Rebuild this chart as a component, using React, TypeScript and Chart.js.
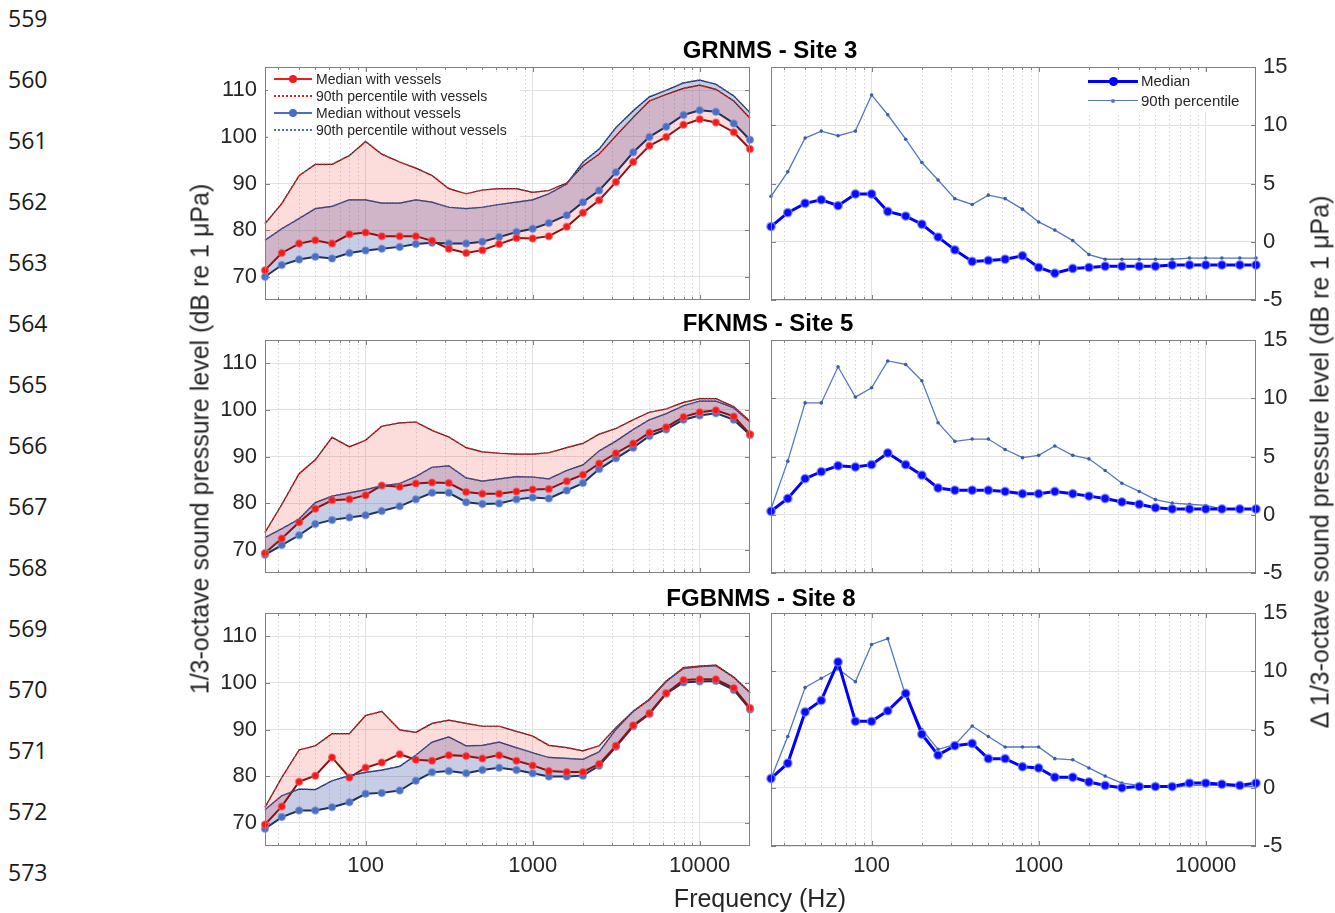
import React, { useEffect, useRef } from "react";
import { Chart, registerables } from "chart.js";

Chart.register(...registerables);

const FONT = "'Liberation Sans', Arial, Helvetica, sans-serif";
const TEXT = "#262626";

// 1/3-octave band centre frequencies (Hz)
const freqHz = [25, 31.5, 40, 50, 63, 80, 100, 125, 160, 200, 250, 315, 400, 500, 630, 800, 1000, 1250, 1600, 2000, 2500, 3150, 4000, 5000, 6300, 8000, 10000, 12500, 16000, 20000];
const freqTicks = [100, 1000, 10000];
const minorFreqs = [30, 40, 50, 60, 70, 80, 90, 200, 300, 400, 500, 600, 700, 800, 900, 2000, 3000, 4000, 5000, 6000, 7000, 8000, 9000];
const levelTicks = [70, 80, 90, 100, 110];
const deltaTicks = [-5, 0, 5, 10, 15];

const siteTitles = ["GRNMS - Site 3", "FKNMS - Site 5", "FGBNMS - Site 8"];
const levelLegend = ["Median with vessels", "90th percentile with vessels", "Median without vessels", "90th percentile without vessels"];
const deltaLegend = ["Median", "90th percentile"];
const lineNumbers = [559, 560, 561, 562, 563, 564, 565, 566, 567, 568, 569, 570, 571, 572, 573];

// GRNMS - Site 3
const grnmsMedianWith = [71.4, 75.1, 77.1, 77.8, 77.1, 79.1, 79.5, 78.7, 78.7, 78.7, 77.7, 76.0, 75.1, 75.7, 77.0, 78.3, 78.2, 78.7, 80.7, 83.7, 86.4, 90.3, 94.6, 98.1, 100.0, 102.6, 103.8, 103.1, 101.0, 97.4];
const grnmsP90With = [81.4, 85.7, 91.7, 94.1, 94.1, 96.0, 99.0, 96.3, 94.6, 93.3, 91.7, 88.9, 87.8, 88.6, 88.9, 88.9, 88.1, 88.5, 90.1, 93.8, 96.3, 100.2, 104.2, 107.7, 109.1, 110.4, 111.1, 110.2, 107.7, 104.0];
const grnmsMedianWithout = [70.0, 72.5, 73.7, 74.3, 73.9, 75.1, 75.6, 76.0, 76.4, 77.0, 77.3, 77.1, 77.1, 77.5, 78.5, 79.6, 80.3, 81.5, 83.2, 86.0, 88.5, 92.4, 96.7, 100.0, 102.2, 104.7, 105.7, 105.4, 102.9, 99.4];
const grnmsP90Without = [77.8, 80.3, 82.5, 84.6, 85.1, 86.5, 86.5, 85.8, 85.8, 86.5, 86.0, 84.9, 84.6, 84.9, 85.5, 86.0, 86.5, 87.8, 89.9, 94.6, 97.4, 102.0, 105.6, 108.6, 110.0, 111.6, 112.2, 111.3, 108.8, 105.2];
const grnmsDeltaMedian = [1.3, 2.5, 3.3, 3.6, 3.1, 4.1, 4.1, 2.6, 2.2, 1.5, 0.4, -0.7, -1.7, -1.6, -1.5, -1.2, -2.2, -2.7, -2.3, -2.2, -2.1, -2.1, -2.1, -2.1, -2.0, -2.0, -2.0, -2.0, -2.0, -2.0];
const grnmsDeltaP90 = [3.9, 6.0, 8.9, 9.5, 9.1, 9.5, 12.6, 10.9, 8.8, 6.8, 5.3, 3.7, 3.2, 4.0, 3.7, 2.8, 1.7, 1.0, 0.1, -1.1, -1.5, -1.5, -1.5, -1.5, -1.5, -1.4, -1.4, -1.4, -1.4, -1.4];

// FKNMS - Site 5
const fknmsMedianWith = [69.3, 72.4, 75.9, 78.8, 80.6, 80.8, 81.7, 83.8, 83.5, 84.2, 84.4, 84.3, 82.4, 82.0, 82.0, 82.5, 82.9, 83.0, 84.7, 86.1, 88.5, 90.7, 92.8, 95.1, 96.3, 98.5, 99.5, 99.9, 98.6, 94.8];
const fknmsP90With = [73.7, 79.7, 86.3, 89.3, 94.1, 92.1, 93.5, 96.5, 97.2, 97.4, 95.6, 94.2, 91.9, 91.0, 90.7, 90.5, 90.5, 90.8, 91.9, 92.8, 94.8, 96.0, 97.9, 99.5, 100.2, 101.6, 102.4, 102.4, 100.7, 97.6];
const fknmsMedianWithout = [68.9, 71.0, 73.1, 75.5, 76.4, 76.9, 77.4, 78.3, 79.3, 80.8, 82.2, 82.2, 80.2, 79.8, 79.9, 80.8, 81.2, 81.0, 82.7, 84.3, 87.3, 89.6, 91.9, 94.4, 95.8, 97.9, 98.8, 99.3, 97.9, 94.6];
const fknmsP90Without = [72.6, 74.5, 76.6, 80.1, 81.5, 82.2, 82.9, 83.7, 84.2, 85.7, 87.7, 88.0, 85.4, 84.7, 85.2, 85.7, 85.6, 85.2, 87.0, 88.2, 91.2, 93.3, 95.8, 97.9, 99.2, 100.9, 101.9, 101.9, 100.4, 97.4];
const fknmsDeltaMedian = [0.3, 1.4, 3.1, 3.7, 4.2, 4.1, 4.3, 5.3, 4.3, 3.4, 2.3, 2.1, 2.1, 2.1, 2.0, 1.8, 1.8, 2.0, 1.8, 1.6, 1.4, 1.1, 0.9, 0.6, 0.5, 0.5, 0.5, 0.5, 0.5, 0.5];
const fknmsDeltaP90 = [0.5, 4.6, 9.6, 9.6, 12.7, 10.1, 10.9, 13.2, 12.9, 11.5, 7.9, 6.3, 6.5, 6.5, 5.6, 4.9, 5.1, 5.9, 5.1, 4.8, 3.8, 2.7, 2.0, 1.3, 1.0, 0.9, 0.8, 0.5, 0.5, 0.5];

// FGBNMS - Site 8
const fgbnmsMedianWith = [69.6, 73.5, 78.8, 80.1, 84.0, 79.7, 81.8, 82.9, 84.7, 83.5, 83.3, 84.5, 84.3, 83.8, 84.5, 83.3, 82.3, 81.1, 80.9, 80.9, 82.6, 86.5, 90.9, 93.5, 97.8, 100.6, 100.8, 100.8, 98.9, 94.6];
const fgbnmsP90With = [73.3, 79.7, 85.6, 86.5, 89.1, 89.1, 93.0, 93.9, 89.9, 89.4, 91.3, 92.0, 91.3, 90.7, 90.7, 89.6, 88.6, 86.6, 86.1, 85.4, 86.5, 90.4, 93.9, 96.4, 100.3, 103.3, 103.6, 103.8, 101.2, 97.9];
const fgbnmsMedianWithout = [68.7, 71.2, 72.6, 72.6, 73.3, 74.4, 76.2, 76.4, 76.9, 79.0, 80.8, 81.1, 80.6, 81.3, 81.8, 81.3, 80.6, 79.9, 79.9, 80.1, 82.2, 86.3, 90.7, 93.3, 97.7, 100.1, 100.3, 100.4, 98.5, 94.3];
const fgbnmsP90Without = [72.8, 75.8, 77.2, 77.1, 79.0, 80.1, 80.8, 81.3, 82.1, 84.5, 87.3, 88.4, 86.5, 86.6, 87.3, 86.1, 85.0, 84.0, 83.8, 83.6, 85.2, 90.0, 93.9, 96.5, 100.4, 103.1, 103.5, 103.7, 101.2, 97.9];
const fgbnmsDeltaMedian = [0.8, 2.1, 6.5, 7.5, 10.8, 5.7, 5.7, 6.6, 8.1, 4.6, 2.8, 3.6, 3.8, 2.5, 2.5, 1.8, 1.7, 0.9, 0.9, 0.5, 0.2, 0.0, 0.1, 0.1, 0.1, 0.4, 0.4, 0.3, 0.2, 0.4];
const fgbnmsDeltaP90 = [0.8, 4.4, 8.6, 9.4, 10.2, 9.1, 12.3, 12.8, 7.9, 5.0, 3.3, 3.7, 5.3, 4.4, 3.5, 3.5, 3.5, 2.5, 2.4, 1.7, 1.0, 0.4, 0.2, 0.1, 0.0, 0.2, 0.2, 0.2, 0.1, 0.1];

const levelSeries = [
  [grnmsMedianWith, grnmsP90With, grnmsMedianWithout, grnmsP90Without],
  [fknmsMedianWith, fknmsP90With, fknmsMedianWithout, fknmsP90Without],
  [fgbnmsMedianWith, fgbnmsP90With, fgbnmsMedianWithout, fgbnmsP90Without],
];
const deltaSeries = [
  [grnmsDeltaMedian, grnmsDeltaP90],
  [fknmsDeltaMedian, fknmsDeltaP90],
  [fgbnmsDeltaMedian, fgbnmsDeltaP90],
];

// layout
const ROW_TOP = [67, 340, 613];
const PLOT_H = 233;
const LEFT_X = 265;
const RIGHT_X = 771;
const PLOT_W = 485;
const PAD_TOP = 24;
const AXIS_W = 60;
const X_AXIS_H = 45;

const RED_FILL = "rgba(245, 80, 80, 0.2)";
const BLUE_FILL = "rgba(50, 75, 160, 0.28)";

const pts = (arr: number[]) => freqHz.map((f, i) => ({ x: f, y: arr[i] }));

const gridPlugin = {
  id: "matlabGrid",
  beforeDatasetsDraw(chart: any) {
    const { ctx, chartArea: a, scales } = chart;
    const xs = scales.x;
    ctx.save();
    ctx.strokeStyle = "#d4d4d4";
    ctx.lineWidth = 1;
    ctx.setLineDash([1.5, 2.5]);
    minorFreqs.forEach((f) => {
      const px = Math.round(xs.getPixelForValue(f)) + 0.5;
      ctx.beginPath();
      ctx.moveTo(px, a.top);
      ctx.lineTo(px, a.bottom);
      ctx.stroke();
    });
    ctx.restore();
  },
  afterDraw(chart: any) {
    const { ctx, chartArea: a, scales } = chart;
    const xs = scales.x;
    const ys = scales.y;
    ctx.save();
    ctx.strokeStyle = "#808080";
    ctx.lineWidth = 1;
    // inward tick marks (top & bottom, left & right)
    ctx.beginPath();
    const xTick = (v: number, len: number) => {
      const px = Math.round(xs.getPixelForValue(v)) + 0.5;
      ctx.moveTo(px, a.bottom);
      ctx.lineTo(px, a.bottom - len);
      ctx.moveTo(px, a.top);
      ctx.lineTo(px, a.top + len);
    };
    freqTicks.forEach((v) => xTick(v, 5));
    minorFreqs.forEach((v) => xTick(v, 3));
    ys.ticks.forEach((t: any) => {
      const py = Math.round(ys.getPixelForValue(t.value)) + 0.5;
      ctx.moveTo(a.left, py);
      ctx.lineTo(a.left + 5, py);
      ctx.moveTo(a.right, py);
      ctx.lineTo(a.right - 5, py);
    });
    ctx.stroke();
    ctx.strokeRect(Math.round(a.left) + 0.5, Math.round(a.top) + 0.5, Math.round(a.right - a.left) - 1, Math.round(a.bottom - a.top) - 1);
    ctx.restore();
  },
};

function xScale(showX: boolean) {
  return {
    type: "logarithmic",
    min: 25,
    max: 20000,
    afterBuildTicks: (s: any) => {
      s.ticks = freqTicks.map((v) => ({ value: v, major: true }));
    },
    afterFit: (s: any) => {
      s.height = X_AXIS_H;
    },
    ticks: {
      display: showX,
      autoSkip: false,
      maxRotation: 0,
      padding: 7,
      color: TEXT,
      font: { family: FONT, size: 22 },
      callback: (v: any) => String(v),
    },
    grid: { color: "#e2e2e2", lineWidth: 1, drawTicks: false },
    border: { display: false },
  };
}

function levelConfig(row: number, showX: boolean): any {
  const [medW, p90W, medWo, p90Wo] = levelSeries[row];
  return {
    type: "line",
    data: {
      datasets: [
        { data: pts(p90W), borderColor: "#ee2020", borderWidth: 1.5, borderDash: [1.5, 1.5], pointRadius: 0, fill: false },
        { data: pts(p90Wo), borderColor: "#3a5cb8", borderWidth: 1.5, borderDash: [1.5, 1.5], pointRadius: 0, fill: false },
        {
          data: pts(medW), borderColor: "#8e1212", borderWidth: 2, fill: false,
          pointRadius: 3.5, pointBackgroundColor: "#f01c1c", pointBorderColor: "rgba(255,90,90,0.55)", pointBorderWidth: 1.5,
        },
        {
          data: pts(medWo), borderColor: "#1e3260", borderWidth: 2, fill: false,
          pointRadius: 3.5, pointBackgroundColor: "#4a6ec4", pointBorderColor: "rgba(110,140,215,0.55)", pointBorderWidth: 1.5,
        },
        { data: pts(p90W), borderColor: "#2a2228", borderWidth: 1.2, pointRadius: 0, fill: 2, backgroundColor: RED_FILL },
        { data: pts(p90Wo), borderColor: "#22263a", borderWidth: 1.2, pointRadius: 0, fill: 3, backgroundColor: BLUE_FILL },
      ],
    },
    options: {
      animation: false,
      responsive: false,
      maintainAspectRatio: false,
      events: [],
      clip: 10,
      layout: { padding: { left: 0, right: 10, top: PAD_TOP, bottom: 0 } },
      elements: { line: { tension: 0 } },
      plugins: { legend: { display: false }, tooltip: { enabled: false }, filler: { drawTime: "beforeDatasetDraw" } },
      scales: {
        x: xScale(showX),
        y: {
          type: "linear",
          position: "left",
          min: 65,
          max: 115,
          afterBuildTicks: (s: any) => {
            s.ticks = levelTicks.map((v) => ({ value: v }));
          },
          afterFit: (s: any) => {
            s.width = AXIS_W;
          },
          ticks: { padding: 8, color: TEXT, font: { family: FONT, size: 22 } },
          grid: { color: "#e2e2e2", lineWidth: 1, drawTicks: false },
          border: { display: false },
        },
      },
    },
    plugins: [gridPlugin],
  };
}

function deltaConfig(row: number, showX: boolean): any {
  const [med, p90] = deltaSeries[row];
  return {
    type: "line",
    data: {
      datasets: [
        {
          data: pts(med), borderColor: "#0000ff", borderWidth: 3, fill: false,
          pointRadius: 4.2, pointBackgroundColor: "#0a0aff", pointBorderColor: "rgba(120,140,255,0.7)", pointBorderWidth: 1.5,
        },
        {
          data: pts(p90), borderColor: "#5576c4", borderWidth: 1.3, fill: false,
          pointRadius: 1.8, pointBackgroundColor: "#3a5cb0", pointBorderColor: "#3a5cb0", pointBorderWidth: 0,
        },
      ],
    },
    options: {
      animation: false,
      responsive: false,
      maintainAspectRatio: false,
      events: [],
      clip: 10,
      layout: { padding: { left: 10, right: 0, top: PAD_TOP, bottom: 0 } },
      elements: { line: { tension: 0 } },
      plugins: { legend: { display: false }, tooltip: { enabled: false } },
      scales: {
        x: xScale(showX),
        y: {
          type: "linear",
          position: "right",
          min: -5,
          max: 15,
          afterBuildTicks: (s: any) => {
            s.ticks = deltaTicks.map((v) => ({ value: v }));
          },
          afterFit: (s: any) => {
            s.width = AXIS_W;
          },
          ticks: { padding: 7, color: TEXT, font: { family: FONT, size: 22 } },
          grid: { color: "#e2e2e2", lineWidth: 1, drawTicks: false },
          border: { display: false },
        },
      },
    },
    plugins: [gridPlugin],
  };
}

function Panel({ kind, row }: { kind: "level" | "delta"; row: number }) {
  const ref = useRef<HTMLCanvasElement>(null);
  const showX = row === 2;
  const w = PLOT_W + AXIS_W + 10;
  const h = PLOT_H + PAD_TOP + X_AXIS_H;
  const left = kind === "level" ? LEFT_X - AXIS_W : RIGHT_X - 10;
  const top = ROW_TOP[row] - PAD_TOP;
  useEffect(() => {
    const cfg = kind === "level" ? levelConfig(row, showX) : deltaConfig(row, showX);
    const chart = new Chart(ref.current as HTMLCanvasElement, cfg);
    return () => chart.destroy();
  }, [kind, row]);
  return (
    <canvas
      ref={ref}
      width={w}
      height={h}
      style={{ position: "absolute", left, top, width: w, height: h }}
    />
  );
}

function LegendLine({ x, y, w, color, width, dotted, dot }: any) {
  return (
    <div style={{ position: "absolute", left: x, top: y, width: w, height: 0 }}>
      <div
        style={{
          position: "absolute",
          left: 0,
          top: -width / 2,
          width: w,
          height: 0,
          borderTop: `${width}px ${dotted ? "dotted" : "solid"} ${color}`,
        }}
      />
      {dot ? (
        <div
          style={{
            position: "absolute",
            left: w / 2 - dot,
            top: -dot,
            width: dot * 2,
            height: dot * 2,
            borderRadius: "50%",
            background: color,
          }}
        />
      ) : null}
    </div>
  );
}

function LevelLegend() {
  const rows = [79, 96, 113, 130];
  const styles = [
    { color: "#f01c1c", width: 2, dotted: false, dot: 4 },
    { color: "#f01c1c", width: 2, dotted: true, dot: 0 },
    { color: "#4a6ec4", width: 2, dotted: false, dot: 4 },
    { color: "#4a6ec4", width: 2, dotted: true, dot: 0 },
  ];
  return (
    <div>
      <div style={{ position: "absolute", left: 268, top: 72, width: 252, height: 67, background: "#fff" }} />
      {levelLegend.map((label, i) => (
        <React.Fragment key={label}>
          <LegendLine x={274} y={rows[i]} w={38} {...styles[i]} />
          <div
            style={{
              position: "absolute",
              left: 316,
              top: rows[i] - 9,
              height: 18,
              lineHeight: "18px",
              fontSize: 14,
              fontFamily: FONT,
              color: TEXT,
              whiteSpace: "nowrap",
            }}
          >
            {label}
          </div>
        </React.Fragment>
      ))}
    </div>
  );
}

function DeltaLegend() {
  const rows = [81, 101];
  const styles = [
    { color: "#0000ff", width: 3, dotted: false, dot: 4.5 },
    { color: "#5576c4", width: 1.3, dotted: false, dot: 2 },
  ];
  return (
    <div>
      <div style={{ position: "absolute", left: 1084, top: 72, width: 166, height: 40, background: "#fff" }} />
      {deltaLegend.map((label, i) => (
        <React.Fragment key={label}>
          <LegendLine x={1088} y={rows[i]} w={50} {...styles[i]} />
          <div
            style={{
              position: "absolute",
              left: 1141,
              top: rows[i] - 10,
              height: 20,
              lineHeight: "20px",
              fontSize: 15,
              fontFamily: FONT,
              color: TEXT,
              whiteSpace: "nowrap",
            }}
          >
            {label}
          </div>
        </React.Fragment>
      ))}
    </div>
  );
}

const titleCenters = [
  { x: 770, y: 50 },
  { x: 768, y: 323 },
  { x: 761, y: 598 },
];

export default function App() {
  return (
    <div
      style={{
        position: "absolute",
        left: 0,
        top: 0,
        width: 1335,
        height: 913,
        overflow: "hidden",
        background: "#fff",
        fontFamily: FONT,
      }}
    >
      {lineNumbers.map((n, i) => (
        <div
          key={n}
          style={{
            position: "absolute",
            left: 8,
            top: 18 + 61 * i - 14,
            height: 28,
            lineHeight: "28px",
            fontSize: 23,
            fontFamily: "'Open Sans', 'Noto Sans', sans-serif",
            color: "#1a1a1a",
          }}
        >
          {n}
        </div>
      ))}

      {[0, 1, 2].map((r) => (
        <React.Fragment key={r}>
          <Panel kind="level" row={r} />
          <Panel kind="delta" row={r} />
        </React.Fragment>
      ))}

      <LevelLegend />
      <DeltaLegend />

      {siteTitles.map((t, i) => (
        <div
          key={t}
          style={{
            position: "absolute",
            left: titleCenters[i].x,
            top: titleCenters[i].y,
            transform: "translate(-50%, -50%)",
            fontSize: 24,
            fontWeight: "bold",
            color: "#000",
            whiteSpace: "nowrap",
          }}
        >
          {t}
        </div>
      ))}

      <div
        style={{
          position: "absolute",
          left: 200,
          top: 439,
          transform: "translate(-50%, -50%) rotate(-90deg)",
          fontSize: 25,
          color: TEXT,
          whiteSpace: "nowrap",
        }}
      >
        1/3-octave sound pressure level (dB re 1 μPa)
      </div>
      <div
        style={{
          position: "absolute",
          left: 1320,
          top: 462,
          transform: "translate(-50%, -50%) rotate(-90deg)",
          fontSize: 25,
          color: TEXT,
          whiteSpace: "nowrap",
        }}
      >
        Δ 1/3-octave sound pressure level (dB re 1 μPa)
      </div>
      <div
        style={{
          position: "absolute",
          left: 760,
          top: 898,
          transform: "translate(-50%, -50%)",
          fontSize: 25,
          color: TEXT,
          whiteSpace: "nowrap",
        }}
      >
        Frequency (Hz)
      </div>
    </div>
  );
}
